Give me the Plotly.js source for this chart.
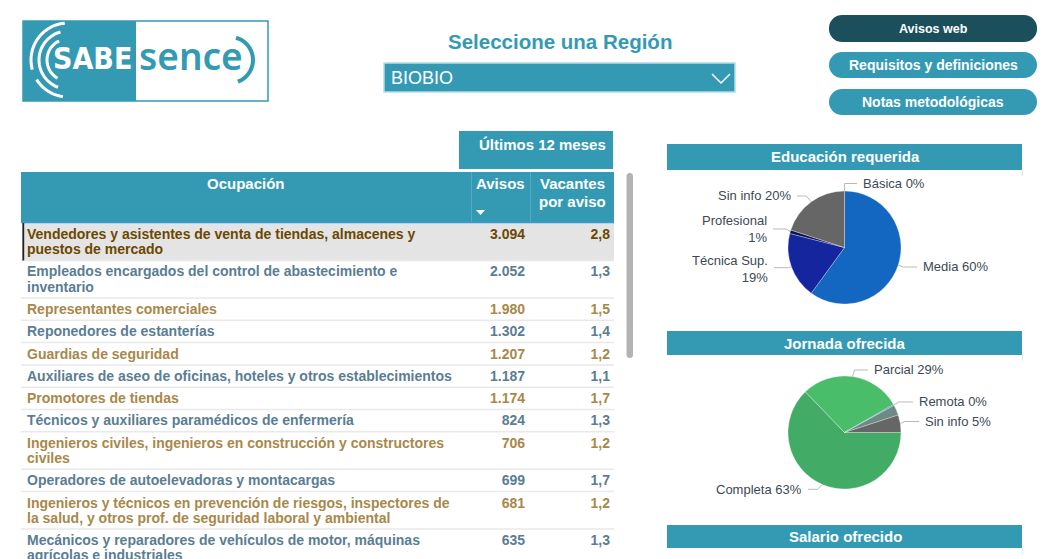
<!DOCTYPE html>
<html><head><meta charset="utf-8">
<script src="https://cdn.plot.ly/plotly-3.0.1.min.js"></script>
<style>html,body{margin:0;padding:0;background:#fff;overflow:hidden}#chart{width:1061px;height:559px}</style>
</head><body><div id="chart"></div>
<script>
// ---------------- DATA ----------------
const occupations = [
  'Vendedores y asistentes de venta de tiendas, almacenes y<br>puestos de mercado',
  'Empleados encargados del control de abastecimiento e<br>inventario',
  'Representantes comerciales',
  'Reponedores de estanterías',
  'Guardias de seguridad',
  'Auxiliares de aseo de oficinas, hoteles y otros establecimientos',
  'Promotores de tiendas',
  'Técnicos y auxiliares paramédicos de enfermería',
  'Ingenieros civiles, ingenieros en construcción y constructores<br>civiles',
  'Operadores de autoelevadoras y montacargas',
  'Ingenieros y técnicos en prevención de riesgos, inspectores de<br>la salud, y otros prof. de seguridad laboral y ambiental',
  'Mecánicos y reparadores de vehículos de motor, máquinas<br>agrícolas e industriales'
];
const avisos = [3094, 2052, 1980, 1302, 1207, 1187, 1174, 824, 706, 699, 681, 635];
const vacantesPorAviso = [2.8, 1.3, 1.5, 1.4, 1.2, 1.1, 1.7, 1.3, 1.2, 1.7, 1.2, 1.3];
const tableHeaders = ['Ocupación', 'Avisos', 'Vacantes<br>por aviso'];
const periodLabel = 'Últimos 12 meses';

const eduLabels = ['Básica', 'Media', 'Técnica Sup.', 'Profesional', 'Sin info'];
const eduValues = [0, 60, 19, 1, 20];
const eduPctText = ['0%', '60%', '19%', '1%', '20%'];

const jorLabels = ['Completa', 'Parcial', 'Remota', 'Otra', 'Sin info'];
const jorValues = [63, 29, 0.3, 3, 5];
const jorPctText = ['63%', '29%', '0%', '', '5%'];

const regionSelected = 'BIOBIO';
const buttonLabels = ['Avisos web', 'Requisitos y definiciones', 'Notas metodológicas'];
const sectionTitles = ['Educación requerida', 'Jornada ofrecida', 'Salario ofrecido'];

// ---------------- HELPERS ----------------
const W = 1061, H = 559;
const X = p => p / W;
const Y = p => 1 - p / H;
const F = 'Liberation Sans, Arial, sans-serif';
const TEAL = '#349ab4';
const shapes = [];
const annotations = [];

function rect(x0, y0, x1, y1, fill, line, lw, layer) {
  shapes.push({type: 'rect', xref: 'paper', yref: 'paper', x0: X(x0), x1: X(x1), y0: Y(y1), y1: Y(y0),
    fillcolor: fill, line: {color: line || 'rgba(0,0,0,0)', width: lw || 0}, layer: layer || 'above'});
}
function pathPx(pts, close) {
  return pts.map((p, i) => (i ? 'L' : 'M') + X(p[0]).toFixed(5) + ',' + Y(p[1]).toFixed(5)).join(' ') + (close ? ' Z' : '');
}
function poly(pts, color, width, fill, close) {
  shapes.push({type: 'path', xref: 'paper', yref: 'paper', path: pathPx(pts, close),
    line: {color: color, width: width || 0}, fillcolor: fill || 'rgba(0,0,0,0)', layer: 'above'});
}
function roundRect(x0, y0, x1, y1, r, fill) {
  const pts = [];
  const corners = [[x1 - r, y0 + r, -90, 0], [x1 - r, y1 - r, 0, 90], [x0 + r, y1 - r, 90, 180], [x0 + r, y0 + r, 180, 270]];
  corners.forEach(c => { for (let a = c[2]; a <= c[3]; a += 10) { const t = a * Math.PI / 180; pts.push([c[0] + r * Math.cos(t), c[1] + r * Math.sin(t)]); } });
  poly(pts, fill, 0, fill, true);
}
function arc(cx, cy, r, a0, a1, color, width) {
  const pts = [];
  for (let a = a0; a <= a1 + 0.01; a += 5) { const t = a * Math.PI / 180; pts.push([cx + r * Math.cos(t), cy - r * Math.sin(t)]); }
  poly(pts, color, width);
}
function text(x, y, t, size, color, opts) {
  opts = opts || {};
  annotations.push(Object.assign({xref: 'paper', yref: 'paper', x: X(x), y: Y(y), text: t, showarrow: false,
    xanchor: 'center', yanchor: 'middle', font: {family: F, size: size, color: color}}, opts));
}
const fmtInt = n => String(n).replace(/\B(?=(\d{3})+(?!\d))/g, '.');
const fmtDec = n => n.toFixed(1).replace('.', ',');

// ---------------- LOGO ----------------
rect(23, 21, 268, 101, '#ffffff', TEAL, 1.5);
rect(23, 21, 136, 101, TEAL);
arc(68, 60, 37, 95, 195, '#ffffff', 3);
arc(68, 60, 37, 212, 262, '#ffffff', 3);
arc(68, 60, 29, 105, 250, '#ffffff', 3);
arc(68, 60, 21, 115, 240, '#ffffff', 3);
text(92, 58, '<b>SABE</b>', 30, '#ffffff', {font: {family: 'Liberation Sans Narrow, DejaVu Sans Condensed, sans-serif', size: 30, color: '#ffffff'}});
text(137, 56, 'sence', 37, TEAL, {xanchor: 'left', font: {family: 'Noto Sans, sans-serif', size: 37, color: TEAL, weight: 600}});
arc(230, 60, 23, -70, 75, TEAL, 4);

// ---------------- REGION SELECTOR ----------------
text(560, 41, '<b>Seleccione una Región</b>', 20.5, TEAL);
rect(384, 63, 735, 92, TEAL, '#b6dbe5', 1.5);
text(389, 78, regionSelected, 18, '#ffffff', {xanchor: 'left'});
poly([[712, 74], [721, 83], [730, 74]], '#ffffff', 1.5);

// ---------------- BUTTONS ----------------
const btnY = [[15, 42], [52, 78], [89, 115]];
const btnFill = ['#1b4f5b', TEAL, TEAL];
const btnSize = [12.5, 14, 14];
buttonLabels.forEach((b, i) => {
  roundRect(829, btnY[i][0], 1037, btnY[i][1], 13, btnFill[i]);
  text(933, (btnY[i][0] + btnY[i][1]) / 2, '<b>' + b + '</b>', btnSize[i], '#ffffff');
});

// ---------------- TABLE ----------------
const tbl = {x0: 21, x1: 614, c1: 471, c2: 530, headTop: 172, headBot: 222, textL: 27, avR: 525, vaR: 610,
  rowH: 22.3, lineH: 15.2, firstLine: 12.4};
rect(459, 131, 613, 169, TEAL);
text(608, 144, '<b>' + periodLabel + '</b>', 15, '#ffffff', {xanchor: 'right'});
rect(tbl.x0, tbl.headTop, tbl.x1, tbl.headBot, TEAL);
poly([[tbl.c1 + 0.5, tbl.headTop], [tbl.c1 + 0.5, tbl.headBot]], '#55acc2', 1);
poly([[tbl.c2 + 0.5, tbl.headTop], [tbl.c2 + 0.5, tbl.headBot]], '#55acc2', 1);
const headCenters = [(tbl.x0 + tbl.c1) / 2, (tbl.c1 + tbl.c2) / 2, (tbl.c2 + tbl.x1) / 2];
tableHeaders.forEach((h, i) => h.split('<br>').forEach((ln, k) =>
  text(headCenters[i], 183.5 + k * 17.5, '<b>' + ln + '</b>', 15, '#ffffff')));
poly([[476, 210], [485, 210], [480.5, 215]], '#ffffff', 0, '#ffffff', true);
poly([[tbl.x0, 222.5], [tbl.x1, 222.5]], '#3a9bd2', 1.5);

const rowColor = occupations.map((_, i) => i === 0 ? '#6b4800' : (i % 2 ? '#5a7d93' : '#a8884a'));
const rowFill = occupations.map((_, i) => i === 0 ? '#e4e4e4' : '#ffffff');
// row geometry from number of text lines
const rowTops = [];
let yCur = 223;
occupations.forEach(o => { rowTops.push(yCur); yCur += tbl.rowH + (o.split('<br>').length - 1) * tbl.lineH; });
rowTops.push(yCur);
const nameX = [], nameY = [], nameT = [], nameC = [];
occupations.forEach((o, i) => o.split('<br>').forEach((ln, k) => {
  nameX.push(tbl.textL); nameY.push(rowTops[i] + tbl.firstLine + k * tbl.lineH); nameT.push('<b>' + ln + '</b>'); nameC.push(rowColor[i]);
}));
const firstLineY = rowTops.slice(0, occupations.length).map(t => t + tbl.firstLine);
occupations.forEach((o, i) => {
  const t = rowTops[i], b = rowTops[i + 1];
  if (rowFill[i] !== '#ffffff') shapes.push({type: 'rect', xref: 'x', yref: 'y', x0: tbl.x0 + 1, x1: tbl.x1, y0: t, y1: b, fillcolor: rowFill[i], line: {width: 0}, layer: 'below'});
  shapes.push({type: 'line', xref: 'x', yref: 'y', x0: tbl.x0, x1: tbl.x1, y0: b, y1: b, line: {color: '#e9e9e9', width: 1.5}, layer: 'below'});
});
poly([[23.3, rowTops[0]], [23.3, rowTops[1]]], '#222222', 1.8);
roundRect(626.5, 173, 633, 358, 3, '#b3b3b3');

const txtTrace = (x, y, t, c, pos) => ({
  type: 'scatter', mode: 'text', x: x, y: y, text: t, textposition: pos, cliponaxis: true,
  textfont: {family: F, size: 14, color: c}, hoverinfo: 'skip', showlegend: false, marker: {size: 0}
});

// ---------------- SECTION BARS ----------------
const barY = [[144, 170], [331, 355], [525, 548]];
sectionTitles.forEach((t, i) => {
  rect(667, barY[i][0], 1022, barY[i][1], TEAL);
  poly([[1022.5, barY[i][1]], [1022.5, barY[i][1] + 6]], '#d6ebf1', 1);
  text(845, (barY[i][0] + barY[i][1]) / 2, '<b>' + t + '</b>', 15, '#ffffff');
});

// ---------------- PIES ----------------
const eduPie = {cx: 844.5, cy: 247.5, r: 56.5, start: 0};
const jorPie = {cx: 844.5, cy: 432.5, r: 56.5, start: 90};
function pieTrace(pie, labels, values, colors) {
  return {
    type: 'pie', labels: labels, values: values, sort: false, direction: 'clockwise', rotation: pie.start,
    textinfo: 'none', hoverinfo: 'label+percent', showlegend: false,
    marker: {colors: colors, line: {color: 'rgba(255,255,255,0.5)', width: 0.6}},
    domain: {x: [X(pie.cx - pie.r), X(pie.cx + pie.r)], y: [Y(pie.cy + pie.r), Y(pie.cy - pie.r)]}
  };
}
function anchors(pie, values) {
  const tot = values.reduce((a, b) => a + b, 0);
  let acc = 0;
  return values.map(v => {
    const mid = pie.start + (acc + v / 2) / tot * 360; acc += v;
    const t = mid * Math.PI / 180;
    return [pie.cx + pie.r * Math.sin(t), pie.cy - pie.r * Math.cos(t)];
  });
}
// label layout: [labelX, lineY, elbowDx, side, textY, twoLines]
function pieLabels(pie, labels, values, pct, layout) {
  const an = anchors(pie, values);
  labels.forEach((lab, i) => {
    const L = layout[i]; if (!L) return;
    const a = an[i];
    const side = L[3];
    const endX = side === 'right' ? L[0] - 4 : L[0] + 4;
    poly([a, [a[0] + L[2], L[1]], [endX, L[1]]], '#b9b9b9', 1);
    const t = L[5] ? lab + '<br>' + pct[i] : lab + ' ' + pct[i];
    text(L[0], L[4], t, 13, '#3b4956', {xanchor: side === 'right' ? 'left' : 'right', align: side === 'right' ? 'left' : 'right'});
  });
}
pieLabels(eduPie, eduLabels, eduValues, eduPctText, [
  [861, 183.5, 0, 'right', 183.7],
  [921, 267, 5, 'right', 266.7],
  [770, 267.7, -3, 'left', 269, true],
  [769, 229, -4, 'left', 229.2, true],
  [793, 196, -5, 'left', 195.7]
]);
pieLabels(jorPie, jorLabels, jorValues, jorPctText, [
  [804, 489.3, -5, 'left', 489.3],
  [872, 370, 2, 'right', 369.3],
  [917, 402, 5, 'right', 401.7],
  null,
  [923, 421.5, 4, 'right', 421.7]
]);

const data = [
  txtTrace(nameX, nameY, nameT, nameC, 'middle right'),
  txtTrace(avisos.map(() => tbl.avR), firstLineY, avisos.map(v => '<b>' + fmtInt(v) + '</b>'), rowColor, 'middle left'),
  txtTrace(vacantesPorAviso.map(() => tbl.vaR), firstLineY, vacantesPorAviso.map(v => '<b>' + fmtDec(v) + '</b>'), rowColor, 'middle left'),
  pieTrace(eduPie, eduLabels, eduValues, ['#9aa7b4', '#1467c0', '#14259e', '#0a1550', '#666666']),
  pieTrace(jorPie, jorLabels, jorValues, ['#42ab66', '#4abd6a', '#2b6fc4', '#6d8b84', '#666666'])
];
const layout = {
  width: W, height: H, margin: {l: 0, r: 0, t: 0, b: 0},
  paper_bgcolor: '#ffffff', plot_bgcolor: 'rgba(0,0,0,0)', font: {family: F},
  xaxis: {domain: [0, 1], range: [0, W], visible: false, fixedrange: true},
  yaxis: {domain: [0, 1], range: [H, 0], visible: false, fixedrange: true},
  shapes: shapes, annotations: annotations
};
Plotly.newPlot('chart', data, layout, {displayModeBar: false});
</script>
</body></html>
